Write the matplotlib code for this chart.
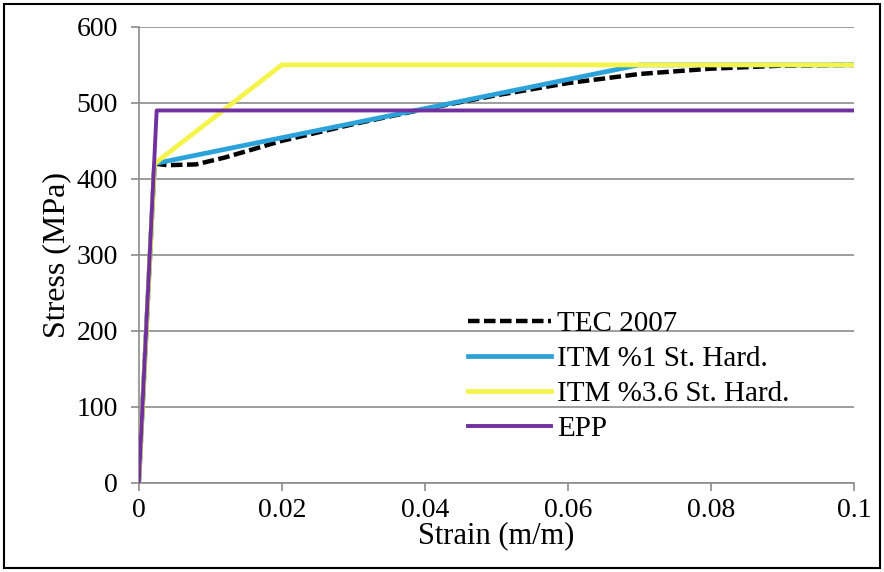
import matplotlib.pyplot as plt
import numpy as np
from matplotlib.patches import Rectangle

plt.rcParams['font.family'] = ['Liberation Serif', 'DejaVu Serif']

# données
tec_x = [0, 0.0022, 0.004, 0.008, 0.012, 0.02, 0.03, 0.04, 0.05, 0.06, 0.07, 0.08, 0.09, 0.1]
tec_y = [0, 420, 418, 419, 428, 450, 472, 492, 510, 526, 538, 545, 549, 550]
itm1_x = [0, 0.0022, 0.07, 0.1]
itm1_y = [0, 420, 550, 550]
itm36_x = [0, 0.0022, 0.02, 0.1]
itm36_y = [0, 420, 550, 550]
epp_x = [0, 0.0025, 0.1]
epp_y = [0, 490, 490]

fig = plt.figure(figsize=(8.84, 5.72), dpi=100)
ax = fig.add_axes([0.157, 0.156, 0.809, 0.797])

ax.plot(tec_x, tec_y, color='black', lw=3.2, ls=(0, (2.6, 1.0)), label='TEC 2007', zorder=3)
ax.plot(itm1_x, itm1_y, color='#2BA3DA', lw=3.4, label='ITM %1 St. Hard.', zorder=4)
ax.plot(itm36_x, itm36_y, color='#F4F44A', lw=3.4, label='ITM %3.6 St. Hard.', zorder=5)
ax.plot(epp_x, epp_y, color='#7030A0', lw=2.8, label='EPP', zorder=6)

ax.set_xlim(0, 0.1)
ax.set_ylim(0, 600)
ax.set_xticks([0, 0.02, 0.04, 0.06, 0.08, 0.1])
ax.set_xticklabels(['0', '0.02', '0.04', '0.06', '0.08', '0.1'])
ax.set_yticks(np.arange(0, 700, 100))
ax.grid(axis='y', color='#8c8c8c', lw=1.2)
ax.set_axisbelow(True)
for s in ['top', 'right']:
    ax.spines[s].set_visible(False)
for s in ['left', 'bottom']:
    ax.spines[s].set_color('#8c8c8c')
    ax.spines[s].set_linewidth(1.2)
ax.tick_params(axis='both', colors='#8c8c8c', labelcolor='black', labelsize=20, length=6, width=1.2)
ax.tick_params(axis='x', pad=5)
ax.tick_params(axis='y', pad=9)
ax.set_xlabel('Strain (m/m)', fontsize=22, labelpad=-1)
ax.set_ylabel('Stress (MPa)', fontsize=23, labelpad=4)

ax.legend(loc='upper left', bbox_to_anchor=(0.44, 0.41), frameon=False, fontsize=21,
          handlelength=2.85, handletextpad=0.2, labelspacing=0.3, borderpad=0)

fig.patches.append(Rectangle((4/884, 4/572), 876/884, 564/572, transform=fig.transFigure,
                             fill=False, edgecolor='black', lw=1.5))

plt.savefig('out.png')
